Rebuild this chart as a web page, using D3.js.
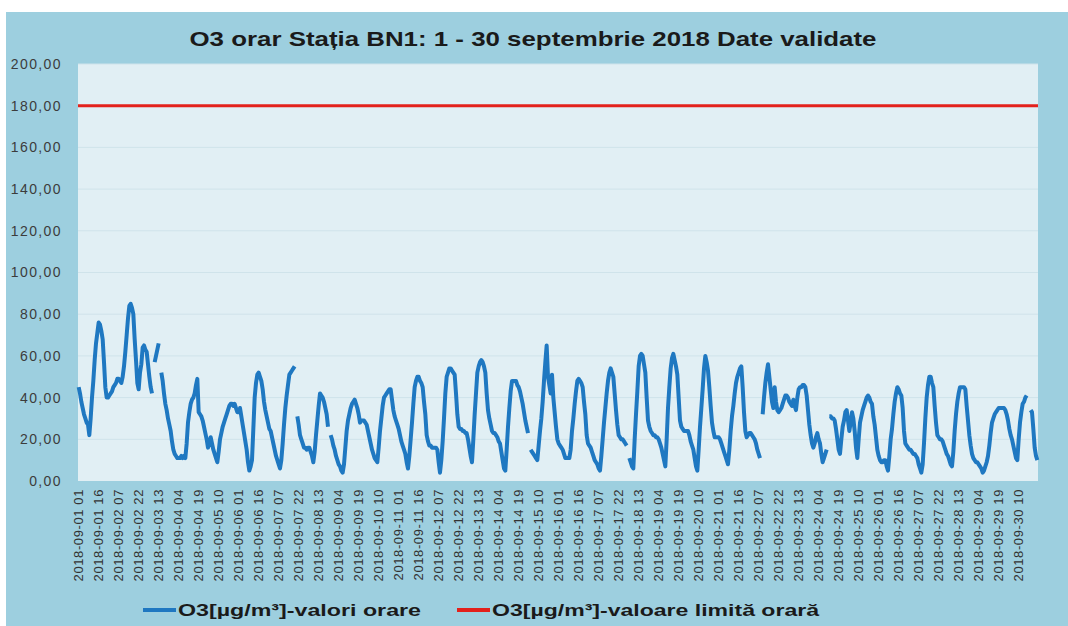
<!DOCTYPE html>
<html>
<head>
<meta charset="utf-8">
<script src="https://cdn.jsdelivr.net/npm/d3@7"></script>
<style>
  body { margin: 0; background: #fff; }
  text { font-family: "Liberation Sans", Arial, sans-serif; }
</style>
</head>
<body>
<div id="chart"></div>
<script>
// O3 hourly values, 1 - 30 Sept 2018 (hours 01..24 each row), null = missing
const o3Hourly = [
  45,42,38,35,32,30,28,27,22,30,40,48,58,66,71,76,75,72,68,57,45,40,40,41,
  42,43,45,46,47,49,49,48,47,50,55,62,70,78,84,85,83,80,68,58,47,44,52,56,
  64,65,63,62,56,50,45,42,null,57,60,63,66,null,52,48,42,37,34,30,27,24,19,15,
  13,12,11,11,11,12,11,12,11,18,28,33,37,39,40,42,46,49,33,32,31,29,26,23,
  20,16,18,21,18,15,13,11,9,14,20,23,26,28,30,32,34,36,37,37,36,37,35,33,
  33,35,31,27,23,19,15,9,5,7,10,25,40,47,51,52,50,48,44,38,34,31,28,25,
  24,21,18,15,12,10,8,6,10,18,27,35,41,46,51,52,53,54,55,null,31,27,22,20,
  18,16,16,15,16,16,14,12,9,14,22,29,36,42,41,40,38,35,32,26,null,22,20,17,
  15,12,10,8,7,5,4,8,16,24,29,32,35,37,38,39,37,35,32,28,29,29,29,28,
  27,24,21,18,15,13,11,10,9,16,24,30,36,40,41,42,43,44,44,39,34,31,29,27,
  25,22,19,17,15,13,9,6,12,20,28,37,45,48,50,50,48,47,45,38,32,22,19,17,
  17,16,16,16,16,15,9,4,10,19,30,42,50,52,54,54,53,52,51,42,32,26,25,25,
  24,24,23,23,20,16,12,9,20,32,42,52,55,57,58,57,55,52,42,34,30,27,24,23,
  23,22,21,19,18,14,10,6,5,15,26,35,43,48,48,48,48,46,45,43,40,37,33,29,
  26,23,null,15,14,13,12,11,10,17,24,30,38,48,57,65,50,46,42,51,40,33,26,20,
  18,17,16,15,13,11,11,11,11,15,24,30,37,43,48,49,48,47,45,38,32,22,18,17,
  16,14,12,10,9,8,6,5,12,20,28,35,42,48,52,54,52,50,42,34,27,22,21,20,
  20,19,18,17,null,11,9,7,6,20,32,43,55,60,61,60,56,52,40,29,26,24,23,22,
  22,21,21,20,18,16,13,10,7,20,35,45,54,59,61,58,55,51,40,29,26,25,24,24,
  24,24,22,19,17,15,11,7,5,15,26,35,44,54,60,57,53,45,36,28,24,21,21,21,
  21,20,18,16,14,12,10,8,15,24,31,36,42,47,50,52,54,55,45,33,24,21,22,23,
  23,22,21,20,18,15,13,11,null,32,40,47,52,56,50,44,38,35,45,38,34,33,34,35,
  37,39,41,41,40,38,37,36,39,36,34,40,44,45,45,46,46,45,41,34,27,22,18,16,
  18,21,23,20,18,13,9,11,13,15,null,31,31,30,30,29,25,20,15,13,20,26,29,33,
  34,29,24,28,33,30,24,16,11,20,28,31,34,36,38,40,41,40,38,37,31,27,21,15,
  12,10,9,9,10,10,7,5,12,20,25,32,38,42,45,44,42,41,35,24,18,17,16,15,
  15,14,13,13,12,11,8,6,4,8,18,30,40,46,50,50,47,45,36,28,22,21,20,20,
  19,17,15,13,12,10,8,7,14,24,32,38,42,45,45,45,45,44,36,29,22,17,13,11,
  10,9,9,8,7,6,4,5,7,9,12,17,23,28,30,32,33,34,35,35,35,35,35,34,
  32,29,25,22,20,17,14,11,10,20,28,33,37,38,40,41,null,null,34,33,25,16,12,10
];

const limitValue = 180;
const yTicks = [0, 20, 40, 60, 80, 100, 120, 140, 160, 180, 200];
const days = d3.range(1, 31);
const hours = d3.range(1, 25);

// category labels "2018-09-DD HH"
const categories = [];
days.forEach(d => hours.forEach(h => {
  categories.push('2018-09-' + d3.format('02')(d) + ' ' + d3.format('02')(h));
}));
const tickLabels = categories.filter((c, i) => i % 15 === 0);

const data = categories.map((c, i) => ({cat: c, value: o3Hourly[i]}));

const width = 1068;
const height = 626;
const plotLeft = 78, plotRight = 1038, plotTop = 64, plotBottom = 481;

const svg = d3.select('#chart').append('svg')
  .attr('width', width)
  .attr('height', height);

// frame
svg.append('rect').attr('x', 6).attr('y', 12).attr('width', width - 6).attr('height', height - 12)
  .attr('fill', '#9dcfdf');

svg.append('rect').attr('x', plotLeft).attr('y', plotTop)
  .attr('width', plotRight - plotLeft).attr('height', plotBottom - plotTop)
  .attr('fill', '#e1eff4');

const x = d3.scaleBand().domain(categories).range([plotLeft, plotRight]);
const y = d3.scaleLinear().domain([0, 200]).range([plotBottom, plotTop]);
const xc = c => x(c) + x.bandwidth() / 2;

// grid
svg.append('g').selectAll('line').data(yTicks.slice(1)).join('line')
  .attr('x1', plotLeft).attr('x2', plotRight)
  .attr('y1', d => y(d)).attr('y2', d => y(d))
  .attr('stroke', '#cfe3ea').attr('stroke-width', 1);

// y axis
const yAxis = svg.append('g')
  .attr('transform', `translate(${plotLeft},0)`)
  .call(d3.axisLeft(y).tickValues(yTicks).tickSize(0).tickPadding(16)
    .tickFormat(d => d3.format('.2f')(d).replace('.', ',')));
yAxis.select('.domain').remove();
yAxis.selectAll('text')
  .attr('font-size', 14)
  .attr('letter-spacing', 1.4)
  .attr('fill', '#3c3c3c')
  .style('font-family', '"Liberation Sans", Arial, sans-serif');

// x axis
const xAxis = svg.append('g')
  .attr('transform', `translate(0,${plotBottom})`)
  .call(d3.axisBottom(x).tickValues(tickLabels).tickSize(0).tickPadding(0));
xAxis.select('.domain').remove();
xAxis.selectAll('text')
  .attr('transform', 'rotate(-90)')
  .attr('x', -8).attr('y', 0).attr('dy', '0.35em')
  .attr('text-anchor', 'end')
  .attr('font-size', 13)
  .attr('letter-spacing', 0.6)
  .attr('fill', '#333')
  .style('font-family', '"Liberation Sans", Arial, sans-serif');

// limit line
svg.append('line')
  .attr('x1', plotLeft).attr('x2', plotRight)
  .attr('y1', y(limitValue)).attr('y2', y(limitValue))
  .attr('stroke', '#e3211c').attr('stroke-width', 3);

// hourly O3
const line = d3.line()
  .defined(d => d.value != null)
  .x(d => xc(d.cat))
  .y(d => y(d.value));

svg.append('path').datum(data)
  .attr('d', line)
  .attr('fill', 'none')
  .attr('stroke', '#1f78c1')
  .attr('stroke-width', 4)
  .attr('stroke-linejoin', 'round');

// title
svg.append('text')
  .attr('x', 533).attr('y', 46)
  .attr('text-anchor', 'middle')
  .attr('font-size', 21)
  .attr('font-weight', 'bold')
  .attr('fill', '#1a1a1a')
  .attr('textLength', 687)
  .attr('lengthAdjust', 'spacingAndGlyphs')
  .text('O3 orar Stația BN1: 1 - 30 septembrie 2018 Date validate');

// legend
const legendItems = [
  {label: 'O3[µg/m³]-valori orare', color: '#1f78c1', x: 143, len: 243},
  {label: 'O3[µg/m³]-valoare limită orară', color: '#e3211c', x: 457, len: 327}
];
const legend = svg.append('g');
legend.selectAll('line').data(legendItems).join('line')
  .attr('x1', d => d.x).attr('x2', d => d.x + 33)
  .attr('y1', 610).attr('y2', 610)
  .attr('stroke', d => d.color).attr('stroke-width', 4);
legend.selectAll('text').data(legendItems).join('text')
  .attr('x', d => d.x + 35).attr('y', 616)
  .attr('font-size', 17)
  .attr('font-weight', 'bold')
  .attr('fill', '#1a1a1a')
  .attr('textLength', d => d.len)
  .attr('lengthAdjust', 'spacingAndGlyphs')
  .text(d => d.label);
</script>
</body>
</html>
